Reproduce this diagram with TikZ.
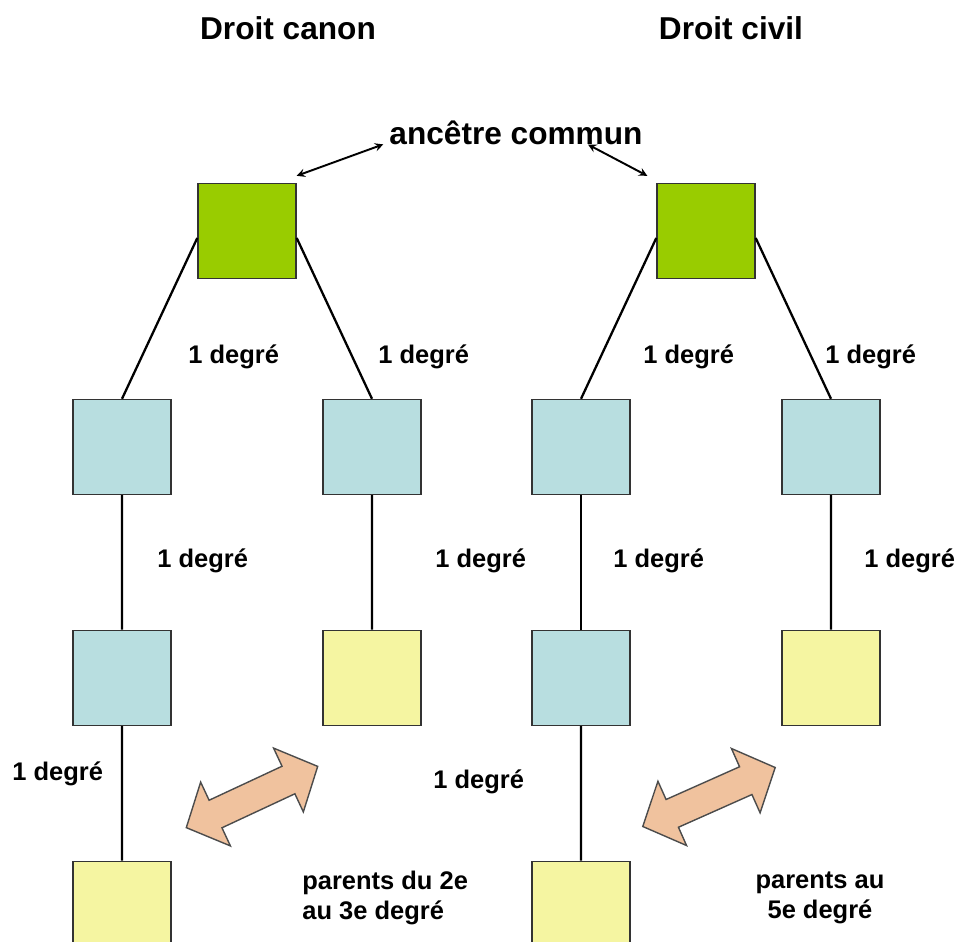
\documentclass[tikz,border=0pt]{standalone}
\usepackage{fontspec}
\setmainfont{Liberation Sans}
\usepackage{xcolor}
\usepackage{tikz}
\usetikzlibrary{trees}
\usetikzlibrary{shapes}
\usetikzlibrary{shapes.arrows}
\usetikzlibrary{positioning}
\definecolor{vert}{rgb}{0.6,0.8,0.0}
\definecolor{bleu}{rgb}{0.72,0.87,0.88}
\definecolor{jaune}{rgb}{0.96,0.96,0.63}
\definecolor{peche}{rgb}{0.94,0.76,0.62}

\begin{document}
\begin{tikzpicture}[
	x=0.02cm, y=-0.02cm,
	level distance=4.32cm,
  level 1/.style={sibling distance=5cm},
  level 2/.style={level distance=4.62cm, parent anchor=south},
  level 3/.style={parent anchor=south},
  child anchor=north,
  edge from parent/.style={draw, line width=1.3pt},
  boite/.style={rectangle, draw=black!80, thick, minimum width=1.96cm, minimum height=1.9cm, inner sep=0pt},
  deg/.style={inner sep=0pt, anchor=base west, font=\fontsize{14.5}{17}\selectfont\bfseries},
  titre/.style={anchor=base, font=\fontsize{18}{22}\selectfont\bfseries},
  fleche/.style={double arrow, draw=black!70, fill=peche, thick, minimum height=2.9cm, minimum width=1.38cm,
    double arrow head extend=0.4cm, double arrow tip angle=95, inner xsep=0pt, inner ysep=0.29cm}]
  \useasboundingbox (0,0) rectangle (960,941);
  % droit canon
  \node[boite,fill=vert] (gc) at (247,231) {}
    child[parent anchor=188] {node[boite,fill=bleu] (gc1) {}
      child {node[boite,fill=bleu] (gc11) {}
        child {node[boite,fill=jaune] (gc111) {}}}
    }
    child[parent anchor=-8] {node[boite,fill=bleu] (gc2) {}
      child {node[boite,fill=jaune] (gc21) {}}
    };
  % droit civil
  \node[boite,fill=vert] (gv) at (706,231) {}
    child[parent anchor=188] {node[boite,fill=bleu] (gv1) {}
      child {node[boite,fill=bleu] (gv11) {}
        child {node[boite,fill=jaune] (gv111) {}}}
    }
    child[parent anchor=-8] {node[boite,fill=bleu] (gv2) {}
      child {node[boite,fill=jaune] (gv21) {}}
    };
  % titres
  \node[titre] (tc) at (288,39) {Droit canon};
  \node[titre] (tv) at (731,39) {Droit civil};
  \node[titre] (anc) at (516,144) {ancêtre commun};
  \draw[<->, >=stealth, line width=1.1pt] ([shift={(0,-7)}]gc.north east) -- ([shift={(0,12)}]anc.west);
  \draw[<->, >=stealth, line width=1.1pt] ([shift={(72,-6)}]anc.south) -- ([shift={(-9,-7)}]gv.north west);
  % degres
  \node[deg] (d1) at (188,363) {1 degré};
  \node[deg] (d2) at (378,363) {1 degré};
  \node[deg] (d3) at (643,363) {1 degré};
  \node[deg] (d4) at (825,363) {1 degré};
  \node[deg] (d5) at (157,567) {1 degré};
  \node[deg] (d6) at (435,567) {1 degré};
  \node[deg] (d7) at (613,567) {1 degré};
  \node[deg] (d8) at (864,567) {1 degré};
  \node[deg] (d9) at (12,780) {1 degré};
  \node[deg] (d10) at (433,788) {1 degré};
  % parents
  \node[fleche, rotate=25] (pc) at (252,797) {};
  \node[fleche, rotate=24] (pv) at (709,797) {};
  \node[deg, anchor=west, align=left] (txc) at (302,898) {parents du 2e\\au 3e degré};
  \node[deg, anchor=center, align=center] (txv) at (820,898) {parents au\\5e degré};
\end{tikzpicture}
\end{document}
